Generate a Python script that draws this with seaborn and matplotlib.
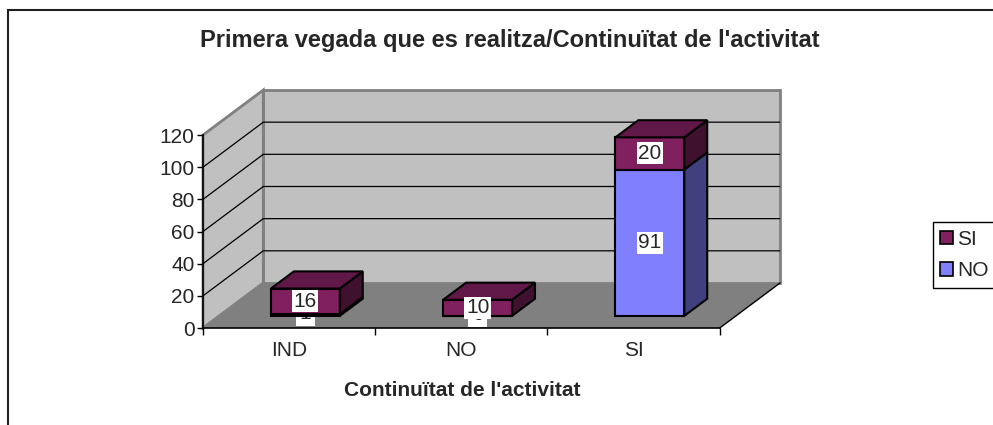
import numpy as np
import pandas as pd
import matplotlib
matplotlib.use("Agg")
import matplotlib.pyplot as plt
from matplotlib.patches import Polygon, Patch, Rectangle
import seaborn as sns

# data
categories = ["IND", "NO", "SI"]
no_values = [1, 0, 91]
si_values = [16, 10, 20]
y_ticks = [0, 20, 40, 60, 80, 100, 120]
title = "Primera vegada que es realitza/Continuïtat de l'activitat"
x_title = "Continuïtat de l'activitat"

sns.set_style("white")
plt.rcParams['font.family'] = ['Liberation Sans', 'DejaVu Sans']

# 3d look (oblique projection, in data units)
DX, DY = 0.35, 28.0
D0, D1 = 0.27, 0.65
BW = 0.4
YMAX = y_ticks[-1]
FS = 15

maroon = dict(front='#80205F', side='#40102F', top='#601848')
blue = dict(front='#8080FF', side='#40407F', top='#6060C0')

fig = plt.figure(figsize=(9.93, 4.25), dpi=100)
ax = fig.add_axes([203 / 993, 97 / 425, 577 / 993, 238 / 425])

x0, x1 = -0.5, len(categories) - 0.5
pos = np.arange(len(categories))

# walls and floor
ax.add_patch(Polygon([(x0 + DX, DY), (x1 + DX, DY), (x1 + DX, YMAX + DY), (x0 + DX, YMAX + DY)],
                     fc='#C0C0C0', ec='#808080', lw=2, zorder=0, clip_on=False))
ax.add_patch(Polygon([(x0, 0), (x0 + DX, DY), (x0 + DX, YMAX + DY), (x0, YMAX)],
                     fc='#C0C0C0', ec='#808080', lw=2, zorder=0, clip_on=False))
ax.add_patch(Polygon([(x0, 0), (x1, 0), (x1 + DX, DY), (x0 + DX, DY)],
                     fc='#808080', ec='none', zorder=0.5, clip_on=False))
ax.plot([x1, x1 + DX], [0, DY], color='black', lw=1, zorder=1, clip_on=False)
for v in y_ticks[1:-1]:
    ax.plot([x0, x0 + DX, x1 + DX], [v, v + DY, v + DY], color='black', lw=0.9, zorder=1)

# front faces of the stacked bars
df = pd.DataFrame({"cat": categories, "NO": no_values, "SI": si_values})
df["x"] = pos + D0 * DX
shift = D0 * DY
sns.barplot(data=df, x="x", y="NO", native_scale=True, width=BW, saturation=1,
            color=blue['front'], bottom=shift, edgecolor='black', linewidth=1.5,
            errorbar=None, ax=ax, zorder=3, clip_on=False)
sns.barplot(data=df, x="x", y="SI", native_scale=True, width=BW, saturation=1,
            color=maroon['front'], bottom=df["NO"].to_numpy() + shift, edgecolor='black',
            linewidth=1.5, errorbar=None, ax=ax, zorder=4, clip_on=False)

# side and top faces
dd_x = (D1 - D0) * DX
dd_y = (D1 - D0) * DY
for i in range(len(categories)):
    segs = [(0, no_values[i], blue, 3), (no_values[i], no_values[i] + si_values[i], maroon, 4)]
    for k, (lo, hi, col, z) in enumerate(segs):
        if hi - lo <= 0:
            continue
        xl = pos[i] + D0 * DX - BW / 2
        xr = xl + BW
        ylo, yhi = lo + shift, hi + shift
        ax.add_patch(Polygon([(xr, ylo), (xr, yhi), (xr + dd_x, yhi + dd_y), (xr + dd_x, ylo + dd_y)],
                             fc=col['side'], ec='black', lw=1.5, zorder=z, clip_on=False))
        if k == 1:
            ax.add_patch(Polygon([(xl, yhi), (xr, yhi), (xr + dd_x, yhi + dd_y), (xl + dd_x, yhi + dd_y)],
                                 fc=col['top'], ec='black', lw=1.5, zorder=z, clip_on=False))

# data labels (tiny segments: label sits behind the bar, only its foot shows)
for i in range(len(categories)):
    cx = pos[i] + D0 * DX
    for lo, v in [(0, no_values[i]), (no_values[i], si_values[i])]:
        if v < 3:
            ax.text(cx, lo + v / 2 + shift + 1, str(v), ha='center', va='center', fontsize=FS,
                    zorder=2.6, bbox=dict(fc='white', ec='none', pad=2.5))
        else:
            ax.text(cx, lo + v / 2 + shift, str(v), ha='center', va='center', fontsize=FS, zorder=6,
                    bbox=dict(fc='white', ec='none', pad=1))

ax.set_xlim(x0, x1 + DX)
ax.set_ylim(0, YMAX + DY)
ax.set_yticks(y_ticks)
ax.set_xticks(pos)
ax.set_xticklabels(categories)
ax.set_xticks(np.arange(len(categories) + 1) - 0.5, minor=True)
ax.tick_params(axis='x', which='major', bottom=True, length=0, pad=9, labelsize=FS)
ax.tick_params(axis='x', which='minor', bottom=True, length=5, width=1, color='black', direction='out')
ax.tick_params(axis='y', left=True, length=4, width=1, color='black', direction='out', pad=2, labelsize=FS)
ax.set_xlabel('')
ax.set_ylabel('')
ax.spines['top'].set_visible(False)
ax.spines['right'].set_visible(False)
ax.spines['left'].set_bounds(0, YMAX)
ax.spines['bottom'].set_bounds(x0, x1)
for s in ['left', 'bottom']:
    ax.spines[s].set_color('black')
    ax.spines[s].set_linewidth(1.2)
ax.patch.set_visible(False)

handles = [Patch(fc=maroon['front'], ec='black', lw=1.2, label='SI'),
           Patch(fc=blue['front'], ec='black', lw=1.2, label='NO')]
leg = fig.legend(handles=handles, loc='center left', bbox_to_anchor=(933 / 993, 1 - 255 / 425),
                 frameon=True, fancybox=False, edgecolor='black', framealpha=1, fontsize=FS,
                 handlelength=0.6, handleheight=0.6, handletextpad=0.2, borderpad=0.35,
                 labelspacing=0.6, borderaxespad=0)
leg.get_frame().set_linewidth(1)

fig.text(510 / 993, 1 - 41 / 425, title, ha='center', va='center', fontsize=17, fontweight='bold')
fig.text(462 / 993, 1 - 390 / 425, x_title, ha='center', va='center', fontsize=FS, fontweight='bold')

fig.add_artist(Rectangle((8 / 993, -0.1), 1.2, 1.1 - 10 / 425, transform=fig.transFigure,
                         fill=False, ec='#202020', lw=1.5))

fig.savefig("out.png", dpi=100)
